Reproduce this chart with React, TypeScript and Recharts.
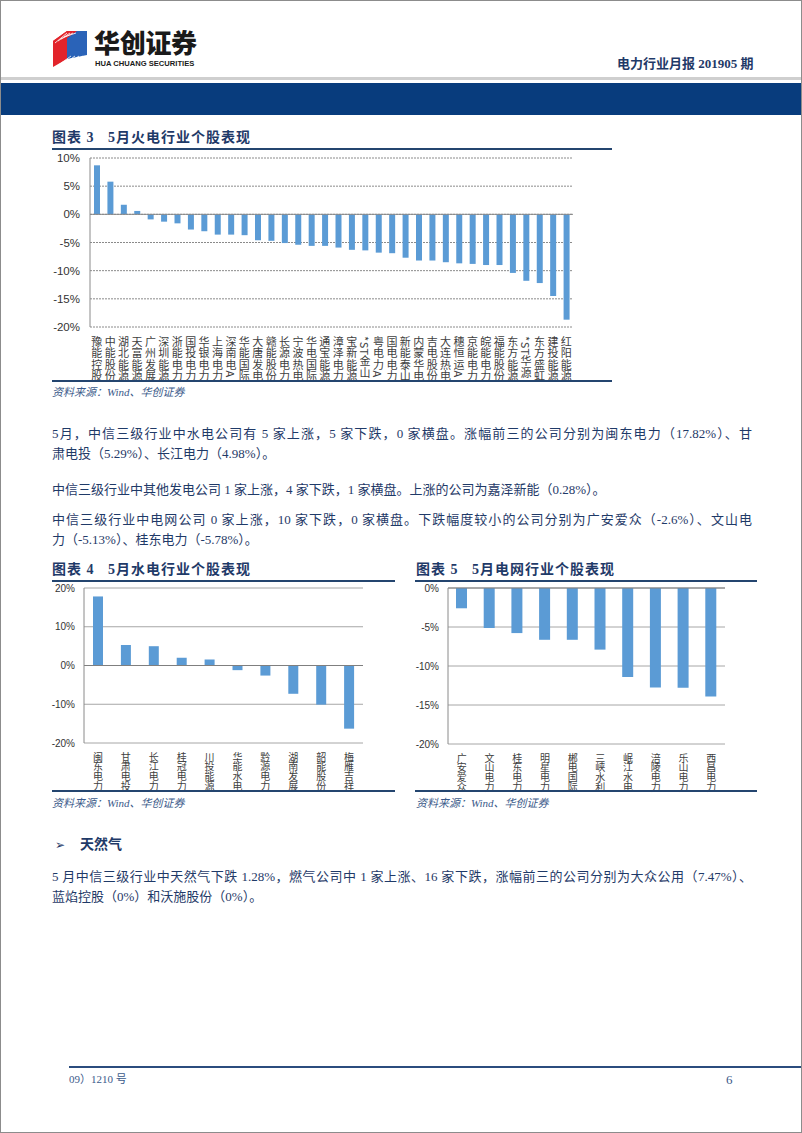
import React from "react";
import { BarChart, Bar, XAxis, YAxis, CartesianGrid, ReferenceLine } from "recharts";

// 图表3 火电
const fireNames = [
  "豫能控股", "中能股份", "湖北能源", "天富能源", "广州发展", "深圳能源", "浙能电力", "国投电力", "华银电力",
  "上海电力", "深南电A", "华能国际", "大唐发电", "赣能股份", "长源电力", "宁波热电", "华电国际", "通宝能源",
  "漳泽电力", "宝新能源", "*ST金山", "粤电力A", "国电电力", "新能泰山", "内蒙华电", "吉电股份", "大连热电",
  "穗恒运A", "京能电力", "皖能电力", "福能股份", "东方能源", "*ST华源", "东方盛虹", "建投能源", "红阳能源",
];
const fireValues = [
  8.7, 5.8, 1.7, 0.6, -0.9, -1.3, -1.6, -2.7, -3.0,
  -3.6, -3.6, -3.7, -4.6, -4.7, -5.1, -5.4, -5.6, -5.6,
  -5.9, -6.3, -6.4, -6.8, -6.9, -7.7, -8.2, -8.2, -8.5,
  -8.7, -8.8, -9.0, -9.0, -10.4, -11.8, -12.2, -14.5, -18.7,
];
const fireTicks = [-20, -15, -10, -5, 0, 5, 10];

// 图表4 水电
const hydroNames = ["闽东电力", "甘肃电投", "长江电力", "桂冠电力", "川投能源", "华能水电", "黔源电力", "湖南发展", "韶能股份", "梅雁吉祥"];
const hydroValues = [17.82, 5.29, 4.98, 2.0, 1.55, -1.2, -2.6, -7.3, -10.1, -16.3];
const hydroTicks = [-20, -10, 0, 10, 20];

// 图表5 电网
const gridNames = ["广安爱众", "文山电力", "桂东电力", "明星电力", "郴电国际", "三峡水利", "岷江水电", "涪陵电力", "乐山电力", "西昌电力"];
const gridValues = [-2.6, -5.13, -5.78, -6.64, -6.64, -7.9, -11.4, -12.75, -12.8, -13.9];
const gridTicks = [-20, -15, -10, -5, 0];

const fireData = fireNames.map((name, i) => ({ name, v: fireValues[i] }));
const hydroData = hydroNames.map((name, i) => ({ name, v: hydroValues[i] }));
const gridData = gridNames.map((name, i) => ({ name, v: gridValues[i] }));

const NAVY = "#1f3a68";
const BAR = "#5b9bd5";
const CJK = "'Noto Sans CJK SC', 'Noto Sans', sans-serif";
const SERIF = "'Liberation Serif', 'Noto Sans CJK SC', serif";
const pct = (v: number) => `${v}%`;

function VTick(props: any) {
  const { x, y, payload, fontSize, spacing } = props;
  return (
    <text
      x={x}
      y={y + 7}
      fill="#404040"
      fontSize={fontSize}
      fontFamily={CJK}
      letterSpacing={spacing}
      style={{ writingMode: "vertical-rl" as any }}
    >
      {payload.value}
    </text>
  );
}

const abs = (left: number, top: number, extra: React.CSSProperties = {}): React.CSSProperties => ({
  position: "absolute",
  left,
  top,
  ...extra,
});

function Title({ left, top, text }: { left: number; top: number; text: string }) {
  return (
    <div style={abs(left, top, { fontFamily: SERIF, fontWeight: 700, fontSize: 14, color: NAVY, whiteSpace: "pre", lineHeight: "16px", letterSpacing: 1 })}>
      {text}
    </div>
  );
}

function Source({ left, top }: { left: number; top: number }) {
  return (
    <div style={abs(left, top, { fontFamily: SERIF, fontStyle: "italic", fontSize: 11, color: "#3b5a8a", lineHeight: "13px" })}>
      资料来源：Wind、华创证券
    </div>
  );
}

function Rule({ left, top, width, h = 2, color = "#24456f" }: { left: number; top: number; width: number; h?: number; color?: string }) {
  return <div style={abs(left, top, { width, height: h, background: color })} />;
}

function Para({ top, text, full }: { top: number; text: string; full?: boolean }) {
  return (
    <div
      style={abs(52, top, {
        width: full ? 700 : undefined,
        fontFamily: SERIF,
        fontSize: 13,
        color: "#1f3a68",
        lineHeight: "16px",
        whiteSpace: "nowrap",
        textAlign: full ? "justify" : "left",
        textAlignLast: full ? "justify" : "auto",
      } as React.CSSProperties)}
    >
      {text}
    </div>
  );
}

export default function App() {
  return (
    <div style={abs(0, 0, { width: 802, height: 1133, background: "#fff", overflow: "hidden" })}>
      {/* header */}
      <svg style={abs(53, 29)} width={36} height={38}>
        <polygon points="0,12 14,2 14,30 0,38" fill="#e2242b" />
        <polygon points="14,2 34,2 34,26 14,30" fill="#2a63b8" />
        <polygon points="0,12 14,2 24,2 10,12" fill="#e2242b" />
        {[0, 1, 2, 3].map((i) => (
          <line key={i} x1={2 + i * 3} y1={14 - i * 2} x2={14 + i * 3} y2={4} stroke="#fff" strokeWidth={0.8} />
        ))}
        {[0, 1, 2, 3].map((i) => (
          <line key={"b" + i} x1={4 + i * 4} y1={37} x2={18 + i * 4} y2={27} stroke="#fff" strokeWidth={0.8} />
        ))}
      </svg>
      <div style={abs(94, 28, { fontFamily: CJK, fontWeight: 900, fontSize: 26, color: "#1a1a1a", lineHeight: "28px", letterSpacing: -0.3 })}>
        华创证券
      </div>
      <div style={abs(95, 59, { fontFamily: "'Liberation Sans', Arial, sans-serif", fontWeight: 700, fontSize: 7.6, color: "#1a1a1a", lineHeight: "9px" })}>
        HUA CHUANG SECURITIES
      </div>
      <div style={abs(617, 56, { fontFamily: SERIF, fontWeight: 700, fontSize: 13, color: NAVY, lineHeight: "16px" })}>
        电力行业月报 201905 期
      </div>
      <Rule left={0} top={77} width={802} h={3} color="#cfcfcf" />
      <Rule left={0} top={83} width={802} h={32} color="#083c7d" />

      {/* 图表3 */}
      <Title left={52} top={130} text={"图表 3   5月火电行业个股表现"} />
      <Rule left={52} top={148} width={560} />
      <div style={abs(40, 150)}>
        <BarChart width={533} height={239} data={fireData} margin={{ top: 8, right: 0, left: 0, bottom: 0 }} style={{ overflow: "visible" }}>
          <CartesianGrid vertical={false} stroke="#8a8a8a" strokeDasharray="2 1" />
          <YAxis
            width={50}
            domain={[-20, 10]}
            ticks={fireTicks}
            tickFormatter={pct}
            axisLine={{ stroke: "#8a8a8a" }}
            tickLine={false}
            tick={{ fontSize: 11.5, fill: "#333", fontFamily: "'Liberation Sans', Arial, sans-serif" }}
            tickMargin={4}
          />
          <XAxis
            dataKey="name"
            interval={0}
            height={62}
            axisLine={false}
            tickLine={false}
            tickSize={0}
            tick={<VTick fontSize={11} spacing={0.5} />}
          />
          <ReferenceLine y={0} stroke="#8a8a8a" />
          <Bar dataKey="v" fill={BAR} barSize={6} isAnimationActive={false} />
        </BarChart>
      </div>
      <Rule left={52} top={380} width={560} />
      <Source left={52} top={386} />

      {/* paragraphs */}
      <Para top={426} full text="5月，中信三级行业中水电公司有 5 家上涨，5 家下跌，0 家横盘。涨幅前三的公司分别为闽东电力（17.82%）、甘" />
      <Para top={446} text="肃电投（5.29%）、长江电力（4.98%）。" />
      <Para top={482} text="中信三级行业中其他发电公司 1 家上涨，4 家下跌，1 家横盘。上涨的公司为嘉泽新能（0.28%）。" />
      <Para top={512} full text="中信三级行业中电网公司 0 家上涨，10 家下跌，0 家横盘。下跌幅度较小的公司分别为广安爱众（-2.6%）、文山电" />
      <Para top={532} text="力（-5.13%）、桂东电力（-5.78%）。" />

      {/* 图表4 */}
      <Title left={52} top={562} text={"图表 4   5月水电行业个股表现"} />
      <Rule left={52} top={580} width={343} />
      <div style={abs(44, 580)}>
        <BarChart width={319} height={219} data={hydroData} margin={{ top: 8, right: 0, left: 0, bottom: 0 }} style={{ overflow: "visible" }}>
          <CartesianGrid vertical={false} stroke="#a6a6a6" />
          <YAxis
            width={40}
            domain={[-20, 20]}
            ticks={hydroTicks}
            tickFormatter={pct}
            axisLine={{ stroke: "#8a8a8a" }}
            tickLine={false}
            tick={{ fontSize: 10, fill: "#333", fontFamily: "'Liberation Sans', Arial, sans-serif" }}
            tickMargin={3}
          />
          <XAxis
            dataKey="name"
            interval={0}
            height={56}
            axisLine={false}
            tickLine={false}
            tickSize={0}
            tick={<VTick fontSize={10} spacing={-0.4} />}
          />
          <ReferenceLine y={0} stroke="#7f7f7f" />
          <Bar dataKey="v" fill={BAR} barSize={10} isAnimationActive={false} />
        </BarChart>
      </div>
      <Rule left={52} top={790} width={343} />
      <Source left={52} top={797} />

      {/* 图表5 */}
      <Title left={416} top={562} text={"图表 5   5月电网行业个股表现"} />
      <Rule left={415} top={580} width={342} />
      <div style={abs(408, 580)}>
        <BarChart width={317} height={220} data={gridData} margin={{ top: 8, right: 0, left: 0, bottom: 0 }} style={{ overflow: "visible" }}>
          <CartesianGrid vertical={false} stroke="#a6a6a6" />
          <YAxis
            width={40}
            domain={[-20, 0]}
            ticks={gridTicks}
            tickFormatter={pct}
            axisLine={{ stroke: "#8a8a8a" }}
            tickLine={false}
            tick={{ fontSize: 10, fill: "#333", fontFamily: "'Liberation Sans', Arial, sans-serif" }}
            tickMargin={3}
          />
          <XAxis
            dataKey="name"
            interval={0}
            height={56}
            axisLine={false}
            tickLine={false}
            tickSize={0}
            tick={<VTick fontSize={10} spacing={-0.4} />}
          />
          <ReferenceLine y={0} stroke="#7f7f7f" />
          <Bar dataKey="v" fill={BAR} barSize={11} isAnimationActive={false} />
        </BarChart>
      </div>
      <Rule left={415} top={790} width={342} />
      <Source left={416} top={797} />

      {/* 天然气 */}
      <div style={abs(55, 837, { fontFamily: "'DejaVu Sans', sans-serif", fontSize: 12, color: NAVY, lineHeight: "16px" })}>➢</div>
      <div style={abs(80, 837, { fontFamily: SERIF, fontWeight: 700, fontSize: 14, color: NAVY, lineHeight: "16px" })}>天然气</div>
      <Para top={869} full text="5 月中信三级行业中天然气下跌 1.28%，燃气公司中 1 家上涨、16 家下跌，涨幅前三的公司分别为大众公用（7.47%）、" />
      <Para top={889} text="蓝焰控股（0%）和沃施股份（0%）。" />

      {/* footer */}
      <Rule left={69} top={1066} width={733} h={2} color="#2b4c7e" />
      <div style={abs(69, 1073, { fontFamily: SERIF, fontSize: 11, color: "#3b5a8a", lineHeight: "13px" })}>09）1210 号</div>
      <div style={abs(726, 1072, { fontFamily: SERIF, fontSize: 13, color: "#3b5a8a", lineHeight: "15px" })}>6</div>

      {/* page border */}
      <div style={abs(0, 0, { width: 802, height: 1133, boxSizing: "border-box", border: "1px solid #8c8c8c", pointerEvents: "none" })} />
    </div>
  );
}
